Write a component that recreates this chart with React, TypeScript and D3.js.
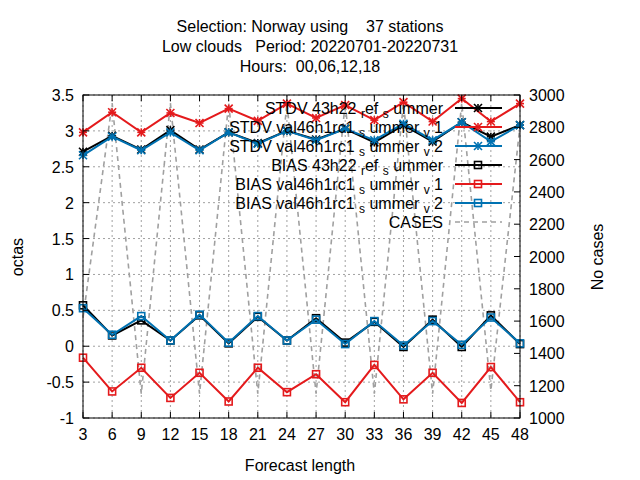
import React from "react";
import * as d3 from "d3";

const steps = [3, 6, 9, 12, 15, 18, 21, 24, 27, 30, 33, 36, 39, 42, 45, 48];
const stdvRef = [2.71, 2.93, 2.74, 3.01, 2.74, 2.98, 2.83, 3.0, 2.88, 3.03, 2.84, 3.08, 2.85, 3.12, 2.92, 3.08];
const stdvV1 = [2.98, 3.26, 2.98, 3.25, 3.11, 3.31, 3.14, 3.38, 3.18, 3.36, 3.15, 3.4, 3.13, 3.45, 3.13, 3.38];
const stdvV2 = [2.66, 2.92, 2.73, 2.98, 2.73, 2.98, 2.82, 3.0, 2.87, 3.03, 2.87, 3.1, 2.87, 3.12, 2.85, 3.08];
const biasRef = [0.57, 0.15, 0.36, 0.08, 0.43, 0.04, 0.41, 0.08, 0.39, 0.05, 0.34, -0.01, 0.37, -0.01, 0.43, 0.03];
const biasV1 = [-0.16, -0.63, -0.3, -0.72, -0.37, -0.77, -0.3, -0.64, -0.39, -0.78, -0.26, -0.74, -0.37, -0.79, -0.29, -0.78];
const biasV2 = [0.53, 0.16, 0.42, 0.08, 0.44, 0.05, 0.42, 0.08, 0.37, 0.03, 0.35, 0.01, 0.35, 0.02, 0.4, 0.04];
const cases = [1620, 2950, 1150, 2950, 1150, 2950, 1150, 2950, 1150, 2950, 1150, 2950, 1150, 2950, 1170, 2810];

const leftTicks = [-1, -0.5, 0, 0.5, 1, 1.5, 2, 2.5, 3, 3.5];
const rightTicks = [1000, 1200, 1400, 1600, 1800, 2000, 2200, 2400, 2600, 2800, 3000];

const BLACK = "#000000";
const RED = "#e41a1c";
const BLUE = "#0072b2";

type Part = { t: string; sub?: boolean };
const refName = (p: string): Part[] => [{ t: p + " 43h22 " }, { t: "r", sub: true }, { t: "ef " }, { t: "s", sub: true }, { t: " ummer" }];
const valName = (p: string, n: string): Part[] => [{ t: p + " val46h1rc1 " }, { t: "s", sub: true }, { t: " ummer " }, { t: "v", sub: true }, { t: " " + n }];

const series = [
  { name: refName("STDV"), values: stdvRef, color: BLACK, mark: "star" },
  { name: valName("STDV", "1"), values: stdvV1, color: RED, mark: "star" },
  { name: valName("STDV", "2"), values: stdvV2, color: BLUE, mark: "star" },
  { name: refName("BIAS"), values: biasRef, color: BLACK, mark: "box" },
  { name: valName("BIAS", "1"), values: biasV1, color: RED, mark: "box" },
  { name: valName("BIAS", "2"), values: biasV2, color: BLUE, mark: "box" },
];

const L = 83, R = 520, T = 95, B = 418;
const font = "Liberation Sans, Arial, sans-serif";

const Marker = ({ x, y, c, m }: { x: number; y: number; c: string; m: string }) =>
  m === "box" ? (
    <rect x={x - 3.5} y={y - 3.5} width={7} height={7} fill="none" stroke={c} strokeWidth={1.6} />
  ) : (
    <g stroke={c} strokeWidth={1.6}>
      <line x1={x - 4} y1={y - 4} x2={x + 4} y2={y + 4} />
      <line x1={x - 4} y1={y + 4} x2={x + 4} y2={y - 4} />
      <line x1={x - 4} y1={y} x2={x + 4} y2={y} />
      <line x1={x} y1={y - 4} x2={x} y2={y + 4} />
    </g>
  );

export default function App() {
  const x = d3.scaleLinear().domain([3, 48]).range([L, R]);
  const y = d3.scaleLinear().domain([-1, 3.5]).range([B, T]);
  const y2 = d3.scaleLinear().domain([1000, 3000]).range([B, T]);
  const line = d3.line<number>().x((_, i) => x(steps[i])).y((d) => y(d));
  const caseLine = d3.line<number>().x((_, i) => x(steps[i])).y((d) => y2(d));

  return (
    <svg width={640} height={480} style={{ position: "absolute", left: 0, top: 0, background: "#fff" }} fontFamily={font} fontSize={16}>
      <g textAnchor="middle">
        <text x={310} y={32}>Selection: Norway using{"\u00a0\u00a0\u00a0\u00a0"}37 stations</text>
        <text x={310} y={52}>Low clouds{"\u00a0\u00a0\u00a0"}Period: 20220701-20220731</text>
        <text x={310} y={72}>Hours:{"\u00a0\u00a0"}00,06,12,18</text>
      </g>
      {steps.map((s) => (
        <line key={"gx" + s} x1={x(s)} x2={x(s)} y1={T} y2={B} stroke="#a0a0a0" strokeDasharray="2,3" />
      ))}
      {leftTicks.map((v) => (
        <line key={"gy" + v} x1={L} x2={R} y1={y(v)} y2={y(v)} stroke="#a0a0a0" strokeDasharray="2,3" />
      ))}
      <path d={caseLine(cases) ?? ""} fill="none" stroke="#a0a0a0" strokeWidth={1.6} strokeDasharray="5,4" />
      {series.map((s, k) => (
        <g key={k}>
          <path d={line(s.values) ?? ""} fill="none" stroke={s.color} strokeWidth={2} />
          {s.values.map((v, i) => <Marker key={i} x={x(steps[i])} y={y(v)} c={s.color} m={s.mark} />)}
        </g>
      ))}
      <rect x={L} y={T} width={R - L} height={B - T} fill="none" stroke="#000" />
      {steps.map((s) => (
        <g key={"tx" + s}>
          <line x1={x(s)} x2={x(s)} y1={B} y2={B - 6} stroke="#000" />
          <line x1={x(s)} x2={x(s)} y1={T} y2={T + 6} stroke="#000" />
          <text x={x(s)} y={B + 22} textAnchor="middle">{s}</text>
        </g>
      ))}
      {leftTicks.map((v) => (
        <g key={"ty" + v}>
          <line x1={L} x2={L + 6} y1={y(v)} y2={y(v)} stroke="#000" />
          <text x={L - 9} y={y(v) + 6} textAnchor="end">{v}</text>
        </g>
      ))}
      {rightTicks.map((v) => (
        <g key={"tr" + v}>
          <line x1={R - 6} x2={R} y1={y2(v)} y2={y2(v)} stroke="#000" />
          <text x={R + 9} y={y2(v) + 6} textAnchor="start">{v}</text>
        </g>
      ))}
      <text x={300} y={471} textAnchor="middle">Forecast length</text>
      <text transform="translate(23,257) rotate(-90)" textAnchor="middle">octas</text>
      <text transform="translate(603,257) rotate(-90)" textAnchor="middle">No cases</text>
      {series.map((s, k) => {
        const ly = 108 + k * 19;
        return (
          <g key={"lg" + k}>
            <text x={443} y={ly + 6} textAnchor="end">
              {s.name.map((p, j) => (
                <tspan key={j} fontSize={p.sub ? 12 : 16} dy={p.sub ? 4 : j > 0 && s.name[j - 1].sub ? -4 : 0}>{p.t}</tspan>
              ))}
            </text>
            <line x1={455} x2={502} y1={ly} y2={ly} stroke={s.color} strokeWidth={2} />
            <Marker x={478} y={ly} c={s.color} m={s.mark} />
          </g>
        );
      })}
      <text x={443} y={108 + 6 * 19 + 6} textAnchor="end">CASES</text>
      <line x1={455} x2={502} y1={108 + 6 * 19} y2={108 + 6 * 19} stroke="#a0a0a0" strokeWidth={1.6} strokeDasharray="5,4" />
    </svg>
  );
}
